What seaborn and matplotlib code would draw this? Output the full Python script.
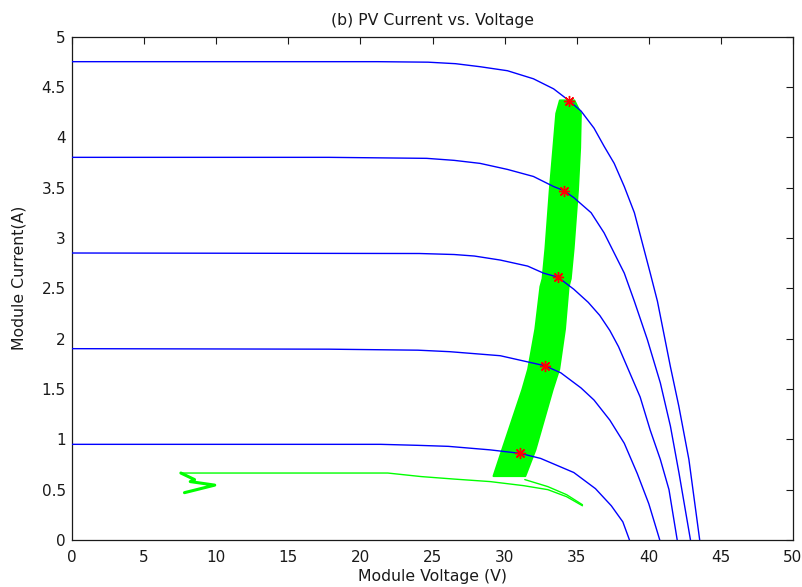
import matplotlib
matplotlib.use("Agg")
import matplotlib.pyplot as plt
import numpy as np
import pandas as pd
import seaborn as sns

# I-V curves at five irradiance levels
v1 = [0, 21.4, 24.0, 26.1, 29.0, 31.1, 32.5, 34.8, 36.3, 37.4, 38.2, 38.66]
i1 = [0.95, 0.95, 0.94, 0.93, 0.895, 0.86, 0.81, 0.67, 0.51, 0.34, 0.18, 0]

v2 = [0, 17.8, 24.0, 26.2, 29.7, 32.8, 33.9, 35.3, 36.2, 37.3, 38.3, 39.2, 40.0, 40.76]
i2 = [1.90, 1.895, 1.885, 1.87, 1.83, 1.73, 1.66, 1.51, 1.39, 1.19, 0.96, 0.66, 0.36, 0]

v3 = [0, 24.1, 26.5, 27.9, 29.7, 31.6, 32.7, 33.7, 34.8, 35.8, 36.6, 37.3, 37.9,
      38.5, 39.4, 40.1, 40.8, 41.4, 41.97]
i3 = [2.85, 2.845, 2.835, 2.82, 2.78, 2.72, 2.65, 2.61, 2.49, 2.36, 2.23, 2.08, 1.92,
      1.72, 1.42, 1.09, 0.80, 0.50, 0]

v4 = [0, 17.8, 24.6, 26.5, 28.3, 30.2, 32.0, 33.4, 34.1, 34.8, 36.0, 36.9, 37.6,
      38.3, 39.0, 39.9, 40.8, 41.5, 42.1, 42.89]
i4 = [3.80, 3.80, 3.79, 3.77, 3.74, 3.68, 3.61, 3.51, 3.47, 3.40, 3.25, 3.05, 2.85,
      2.65, 2.37, 1.99, 1.56, 1.13, 0.66, 0]

v5 = [0, 21.2, 24.7, 26.6, 28.3, 30.2, 32.0, 33.4, 34.4, 35.3, 36.2, 36.9, 37.6,
      38.3, 39.0, 39.55, 40.1, 40.6, 41.5, 42.08, 42.78, 43.53]
i5 = [4.75, 4.75, 4.745, 4.73, 4.70, 4.66, 4.58, 4.48, 4.37, 4.26, 4.09, 3.91, 3.74,
      3.51, 3.25, 2.95, 2.65, 2.37, 1.72, 1.33, 0.80, 0]

# maximum power points
mpp_v = [31.1, 32.8, 33.7, 34.1, 34.5]
mpp_i = [0.86, 1.73, 2.61, 3.47, 4.36]

# tracked operating band (left / right edge at each current level)
band_i = [0.64, 0.90, 1.20, 1.50, 1.70, 2.10, 2.52, 2.60, 2.90, 3.48, 3.90, 4.24, 4.37]
band_left = [29.2, 29.8, 30.5, 31.2, 31.6, 32.1, 32.45, 32.6, 32.8, 33.1, 33.35, 33.55, 33.8]
band_right = [31.4, 32.1, 32.7, 33.3, 33.75, 34.15, 34.4, 34.55, 34.75, 35.05, 35.2, 35.25, 34.8]

# start-up trace at low irradiance
low_v = [7.55, 21.9, 24.2, 26.5, 29.0, 31.3, 33.0, 34.3, 35.4]
low_i = [0.665, 0.665, 0.63, 0.605, 0.58, 0.54, 0.50, 0.43, 0.34]
tail_v = [31.4, 33.0, 34.3, 35.4]
tail_i = [0.60, 0.53, 0.45, 0.35]
zig_v = [7.55, 8.5, 8.2, 9.9, 7.8]
zig_i = [0.665, 0.60, 0.58, 0.545, 0.47]

sns.set_style("white")
plt.rcParams["font.family"] = ["DejaVu Sans"]
plt.rcParams["xtick.direction"] = "in"
plt.rcParams["ytick.direction"] = "in"

curves = []
for k, (v, i) in enumerate([(v1, i1), (v2, i2), (v3, i3), (v4, i4), (v5, i5)]):
    curves.append(pd.DataFrame({"V": v, "I": i, "curve": k}))
df = pd.concat(curves, ignore_index=True)

fig = plt.figure(figsize=(8.02, 5.87), dpi=100)
ax = fig.add_axes([72 / 802, 1 - 540 / 587, 721 / 802, 503.5 / 587])

ax.fill_betweenx(band_i, band_left, band_right, color="#00ff00", lw=1.5,
                 edgecolor="#00ff00", zorder=2)
ax.plot(low_v, low_i, color="#00ff00", lw=1, zorder=2)
ax.plot(tail_v, tail_i, color="#00ff00", lw=1, zorder=2)
ax.plot(zig_v, zig_i, color="#00ff00", lw=2.2, zorder=2)

sns.lineplot(data=df, x="V", y="I", hue="curve", palette=["#0000ff"] * 5,
             estimator=None, sort=False, legend=False, lw=1, ax=ax, zorder=3)

ax.plot(mpp_v, mpp_i, ls="none", marker=(8, 2, 0), ms=8, mew=1.0,
        color="#ff0000", zorder=4)

ax.set_xlim(0, 50)
ax.set_ylim(0, 5)
ax.set_xticks(np.arange(0, 51, 5))
ax.set_yticks(np.arange(0, 5.01, 0.5))
ax.set_yticklabels(["0", "0.5", "1", "1.5", "2", "2.5", "3", "3.5", "4", "4.5", "5"])
ax.tick_params(top=True, right=True, length=5, width=0.8, labelsize=11,
               colors="#1a1a1a")
ax.tick_params(axis="x", pad=7)
ax.tick_params(axis="y", pad=4.5)
for s in ax.spines.values():
    s.set_color("#1a1a1a")
    s.set_linewidth(0.9)

ax.set_title("(b) PV Current vs. Voltage", fontsize=11.3, pad=8, color="#1a1a1a")
ax.set_xlabel("Module Voltage (V)", fontsize=11.3, labelpad=3, color="#1a1a1a")
ax.set_ylabel("Module Current(A)", fontsize=11.3, color="#1a1a1a")
ax.yaxis.set_label_coords(-0.063, 0.52)

fig.savefig("out.png", dpi=100)
